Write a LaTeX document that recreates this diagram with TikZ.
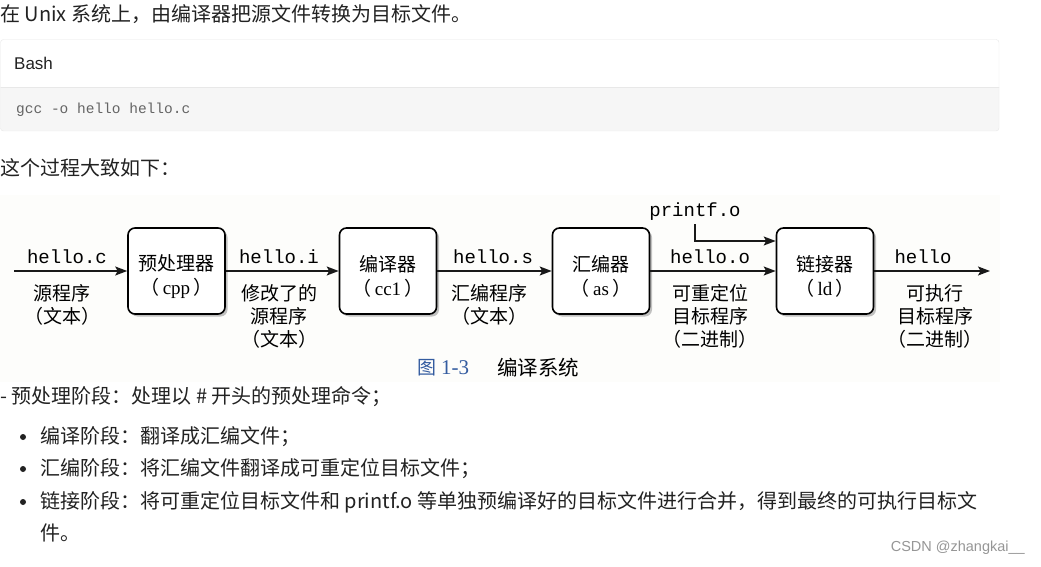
\documentclass[tikz,border=0pt]{standalone}
\usepackage{fontspec}
\setmainfont{Noto Sans CJK SC}
\newfontfamily\monofont{Liberation Mono}
\newfontfamily\serifont{Liberation Serif}
\newfontfamily\latinsans{Liberation Sans}
\usetikzlibrary{arrows.meta, positioning, shadows}

\definecolor{pagetext}{RGB}{34,34,34}
\definecolor{codegray}{RGB}{246,246,246}
\definecolor{codeline}{RGB}{232,232,232}
\definecolor{codetext}{RGB}{100,100,100}
\definecolor{figbg}{RGB}{253,253,251}
\definecolor{figblue}{RGB}{52,92,160}
\definecolor{markgray}{RGB}{150,150,150}

% pushes the two lines of a stage box a little lower
\newcommand{\stagetop}{\rule{0pt}{27pt}}
\newcommand{\tool}[1]{（\,{\serifont #1}\,）}

\begin{document}
\begin{tikzpicture}[x=1pt, y=-1pt,
  body/.style={anchor=west, inner sep=0pt, text=pagetext, font=\fontsize{20}{24}\selectfont},
  stage/.style={draw, line width=1.6pt, rounded corners=7pt, fill=white,
                minimum width=97pt, minimum height=86pt, align=center, inner sep=0pt,
                font=\fontsize{19}{24}\selectfont,
                drop shadow={shadow xshift=2.5pt, shadow yshift=-2.5pt, fill=black!40, opacity=.6}},
  file/.style={anchor=base, inner sep=0pt, font=\monofont\fontsize{19}{24}\selectfont},
  desc/.style={anchor=north, inner sep=0pt, align=center, font=\fontsize{19}{23}\selectfont},
  arrow/.style={-{Stealth[length=12pt, width=9pt, inset=2.5pt]}, line width=1.5pt, black!90}
]
  \useasboundingbox (0,0) rectangle (1041,567);
  \fill[white] (0,0) rectangle (1041,567);

  % page text above the figure
  \node[body] (intro) at (0,14) {在 Unix 系统上，由编译器把源文件转换为目标文件。};

  \begin{scope}
    \clip[rounded corners=3pt] (0.5,39.5) rectangle (999,131);
    \fill[white] (0,39) rectangle (1000,87);
    \fill[codegray] (0,87) rectangle (1000,132);
    \draw[codeline] (0,87) -- (1000,87);
  \end{scope}
  \draw[codeline, rounded corners=3pt] (0.5,39.5) rectangle (999,131);
  \node[body, font=\latinsans\fontsize{17}{20}\selectfont] (lang) at (14,63) {Bash};
  \node[body, text=codetext, font=\monofont\fontsize{14.5}{18}\selectfont] (cmd) at (16,110) {gcc -o hello hello.c};

  \node[body] (lead) at (0,168) {这个过程大致如下：};

  % the figure
  \fill[figbg] (0,195) rectangle (1000,382);

  \coordinate (src) at (14,271);
  \coordinate (out) at (990,271);
  \node[stage] (cpp) at (176.5,271) {\stagetop 预处理器\\\tool{cpp}};
  \node[stage] (cc1) at (388,271)   {\stagetop 编译器\\\tool{cc1}};
  \node[stage] (as)  at (601,271)   {\stagetop 汇编器\\\tool{as}};
  \node[stage] (ld)  at (825,271)   {\stagetop 链接器\\\tool{ld}};

  \draw[arrow] (src) -- (cpp);
  \draw[arrow] (cpp) -- (cc1);
  \draw[arrow] (cc1) -- (as);
  \draw[arrow] (as) -- (ld);
  \draw[arrow] (ld) -- (out);

  \node[file] (printf) at (695,216) {printf.o};
  \draw[arrow] ([yshift=-4pt]printf.south) |- ([yshift=30pt]ld.west);

  \node[file] (helloc) at (67,263)  {hello.c};
  \node[file] (helloi) at (279,263) {hello.i};
  \node[file] (hellos) at (493,263) {hello.s};
  \node[file] (helloo) at (710,263) {hello.o};
  \node[file] (hello)  at (923,263) {hello};

  \node[desc] (srctext) at (62,284)  {源程序\\（文本）};
  \node[desc] (modtext) at (279,284) {修改了的\\源程序\\（文本）};
  \node[desc] (asmtext) at (489,284) {汇编程序\\（文本）};
  \node[desc] (objbin)  at (710,284) {可重定位\\目标程序\\（二进制）};
  \node[desc] (exebin)  at (935,284) {可执行\\目标程序\\（二进制）};

  \node[anchor=west, inner sep=0pt, text=figblue, font=\fontsize{19}{22}\selectfont] (fignum) at (417,368) {图\hspace{5pt}{\serifont\fontsize{21}{22}\selectfont 1-3}};
  \node[anchor=west, inner sep=0pt, font=\fontsize{20.5}{22}\selectfont] (figtitle) at (497,368) {编译系统};

  % page text below the figure
  \node[body] (step1) at (0,397) {- 预处理阶段：处理以 \# 开头的预处理命令；};
  \foreach \y in {437,469,502} \fill[pagetext] (23,\y) circle (3pt);
  \node[body] (step2) at (40,437) {编译阶段：翻译成汇编文件；};
  \node[body] (step3) at (40,469) {汇编阶段：将汇编文件翻译成可重定位目标文件；};
  \node[body] (step4) at (40,502) {链接阶段：将可重定位目标文件和 printf.o 等单独预编译好的目标文件进行合并，得到最终的可执行目标文};
  \node[body] (step4b) at (40,533) {件。};

  \node[anchor=east, inner sep=0pt, text=markgray, font=\latinsans\fontsize{14.5}{16}\selectfont] (mark) at (1025,548) {CSDN @zhangkai\_\_};
\end{tikzpicture}
\end{document}
